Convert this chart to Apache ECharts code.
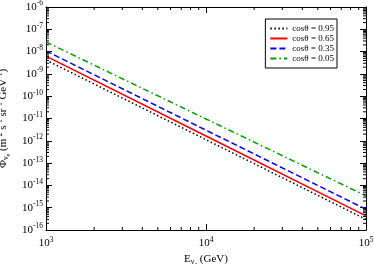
<!DOCTYPE html>
<html><head><meta charset="utf-8">
<script src="https://cdn.jsdelivr.net/npm/echarts@6/dist/echarts.min.js"></script>
<style>html,body{margin:0;padding:0;background:#fff}#c{width:374px;height:264px}</style>
</head><body><div id="c"></div>
<script>
// Energy points (GeV)
const energies = [1e3, 1e4, 1e5];
// Flux values (m^-2 s^-1 sr^-1 GeV^-1)
const cos095 = [4.2e-9, 1.12e-12, 3.0e-16];
const cos065 = [6.3e-9, 1.64e-12, 4.3e-16];
const cos035 = [1.07e-8, 3.0e-12, 8.5e-16];
const cos005 = [2.7e-8, 9.5e-12, 3.4e-15];
const seriesNames = ['cosθ = 0.95', 'cosθ = 0.65', 'cosθ = 0.35', 'cosθ = 0.05'];
const xRange = [1e3, 1e5];
const yRange = [1e-16, 1e-6];

const FONT = 'Liberation Serif';
const sup = {fontSize: 7.5, fontFamily: FONT, color: '#000', padding: [0, 0, 7, 0]};
const base = {fontSize: 11, fontFamily: FONT, color: '#000'};
function powLabel(v) {
  const e = Math.round(Math.log10(v));
  return '{b|10}{s|' + e + '}';
}

// minor tick values (2..9 x decade)
const xMinor = [], yMinor = [];
for (let d = 3; d < 5; d++) for (let k = 2; k <= 9; k++) xMinor.push(k * Math.pow(10, d));
for (let d = -16; d < -6; d++) for (let k = 2; k <= 9; k++) yMinor.push(k * Math.pow(10, d));

function pair(xs, ys) { return xs.map((x, i) => [x, ys[i]]); }

const lineDefs = [
  {data: cos095, color: '#000000', type: [1.5, 2.5]},
  {data: cos065, color: '#ff0000', type: 'solid'},
  {data: cos035, color: '#0000ff', type: [6, 3]},
  {data: cos005, color: '#00a000', type: [6, 3, 1.5, 3]}
];

const series = lineDefs.map((d, i) => ({
  name: seriesNames[i], type: 'line', data: pair(energies, d.data),
  showSymbol: false, symbol: 'none', silent: true,
  lineStyle: {color: d.color, width: 1.5, type: d.type},
  itemStyle: {color: d.color}
}));

series.push({
  type: 'custom', silent: true, z: 5,
  data: xMinor.map(v => [v, 0]),
  renderItem: function (params, api) {
    const x = api.value(0);
    const b = api.coord([x, yRange[0]]);
    const t = api.coord([x, yRange[1]]);
    return {type: 'group', children: [
      {type: 'line', shape: {x1: b[0], y1: b[1], x2: b[0], y2: b[1] - 3}, style: {stroke: '#000', lineWidth: 1}},
      {type: 'line', shape: {x1: t[0], y1: t[1], x2: t[0], y2: t[1] + 3}, style: {stroke: '#000', lineWidth: 1}}
    ]};
  }
});
series.push({
  type: 'custom', silent: true, z: 5,
  data: yMinor.map(v => [xRange[0], v]),
  renderItem: function (params, api) {
    const y = api.value(1);
    const l = api.coord([xRange[0], y]);
    const r = api.coord([xRange[1], y]);
    return {type: 'group', children: [
      {type: 'line', shape: {x1: l[0], y1: l[1], x2: l[0] + 3, y2: l[1]}, style: {stroke: '#000', lineWidth: 1}},
      {type: 'line', shape: {x1: r[0], y1: r[1], x2: r[0] - 3, y2: r[1]}, style: {stroke: '#000', lineWidth: 1}}
    ]};
  }
});

const axisLine = {show: true, onZero: false, lineStyle: {color: '#000', width: 1}};
const option = {
  animation: false,
  backgroundColor: '#fff',
  grid: {left: 46, right: 8, top: 7, bottom: 34, show: false, containLabel: false, outerBoundsMode: 'none'},
  legend: {
    data: seriesNames, orient: 'vertical', right: 37, top: 19,
    backgroundColor: '#fff', borderColor: '#000', borderWidth: 1, borderRadius: 0,
    padding: [5, 3, 5, 4], itemGap: 1, itemWidth: 17, itemHeight: 7,
    itemStyle: {opacity: 0},
    textStyle: {fontFamily: FONT, fontSize: 9, color: '#000'}
  },
  xAxis: [
    {type: 'log', logBase: 10, min: xRange[0], max: xRange[1], interval: 1, position: 'bottom',
     axisLine: axisLine, axisTick: {show: true, inside: true, length: 6, lineStyle: {color: '#000'}},
     splitLine: {show: false},
     axisLabel: {formatter: powLabel, rich: {b: base, s: sup}, margin: 6},
     name: '{b|E}{s|ν}{t|e}{b| (GeV)}', nameLocation: 'middle', nameGap: 15,
     nameTextStyle: {rich: {b: base, s: {fontSize: 8, fontFamily: FONT, padding: [6, 0, 0, 0]}, t: {fontSize: 6, fontFamily: FONT, padding: [10, 0, 0, 0]}}}},
    {type: 'log', logBase: 10, min: xRange[0], max: xRange[1], interval: 1, position: 'top',
     axisLine: axisLine, axisTick: {show: true, inside: true, length: 6, lineStyle: {color: '#000'}},
     axisLabel: {show: false}, splitLine: {show: false}}
  ],
  yAxis: [
    {type: 'log', logBase: 10, min: yRange[0], max: yRange[1], interval: 1, position: 'left',
     axisLine: axisLine, axisTick: {show: true, inside: true, length: 6, lineStyle: {color: '#000'}},
     splitLine: {show: false},
     axisLabel: {formatter: powLabel, rich: {b: base, s: sup}, margin: 3},
     name: '{b|Φ}{s|ν}{t|e}{b| (m}{u|-2}{b| s}{u|-1}{b| sr}{u|-1}{b| GeV}{u|-1}{b|)}',
     nameLocation: 'middle', nameGap: 29, nameRotate: 90,
     nameTextStyle: {rich: {b: base, u: sup, s: {fontSize: 8, fontFamily: FONT, padding: [6, 0, 0, 0]}, t: {fontSize: 6, fontFamily: FONT, padding: [10, 0, 0, 0]}}}},
    {type: 'log', logBase: 10, min: yRange[0], max: yRange[1], interval: 1, position: 'right',
     axisLine: axisLine, axisTick: {show: true, inside: true, length: 6, lineStyle: {color: '#000'}},
     axisLabel: {show: false}, splitLine: {show: false}}
  ],
  series: series
};
const chart = echarts.init(document.getElementById('c'), null, {renderer: 'canvas'});
chart.setOption(option);
</script></body></html>
